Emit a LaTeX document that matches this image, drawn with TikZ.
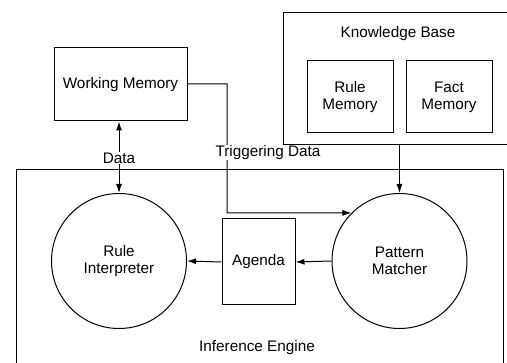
\documentclass[tikz,border=0pt]{standalone}
\usepackage{fontspec}
\setmainfont{Liberation Sans}
\usetikzlibrary{arrows.meta,shapes.geometric}
\begin{document}
\begin{tikzpicture}[x=1pt,y=-1pt,
  every node/.style={font=\fontsize{15.3}{17}\selectfont},
  box/.style={draw,line width=1pt,align=center,inner sep=0pt},
  circ/.style={draw,circle,line width=1pt,minimum size=135pt,align=center,inner sep=0pt},
  lbl/.style={fill=white,inner sep=0.6pt},
  conn/.style={line width=1pt,-{Latex[length=9pt,width=6pt]}}]
\useasboundingbox (0,0) rectangle (507,363);
\clip (0,0) rectangle (507,363);
% containers
\node[box,minimum width=487pt,minimum height=200pt] (ie) at (259.5,270) {};
\node (ielbl) at (257,348) {Inference Engine};
% working memory
\node[box,minimum width=133pt,minimum height=73pt] (wm) at (120.5,84.5) {Working Memory};
% circles
\node[circ] (ri) at (119,261) {Rule\\Interpreter};
\node[circ] (pm) at (399.5,261) {Pattern\\Matcher};
\node[box,minimum width=73pt,minimum height=86pt] (ag) at (258.5,262) {Agenda};
% connectors
\draw[conn] (pm.west) -- (ag.east);
\draw[conn] (ag.west) -- (ri.east);
\coordinate (t1) at (227,84);
\coordinate (t2) at (227,213);
\draw[conn] (wm.east |- t1) -- (t1) -- (t2) -- (pm.135);
\draw[line width=1pt,{Latex[length=9pt,width=6pt]}-{Latex[length=9pt,width=6pt]}] (ri.north |- wm.south) -- (ri.north);
\coordinate (kbb) at (399.5,145);
\draw[conn] (kbb) -- (pm.north);
\node[lbl] (dlbl) at (119,158) {Data};
\node[lbl] (tlbl) at (268,152.5) {Triggering Data};
% knowledge base
\node[box,minimum width=240pt,minimum height=132pt] (kb) at (403,79) {};
\node (kblbl) at (398,34) {Knowledge Base};
\node[box,minimum width=86pt,minimum height=72pt] (rm) at (350,97) {Rule\\Memory};
\node[box,minimum width=86pt,minimum height=72pt] (fm) at (449,97) {Fact\\Memory};
\end{tikzpicture}
\end{document}
